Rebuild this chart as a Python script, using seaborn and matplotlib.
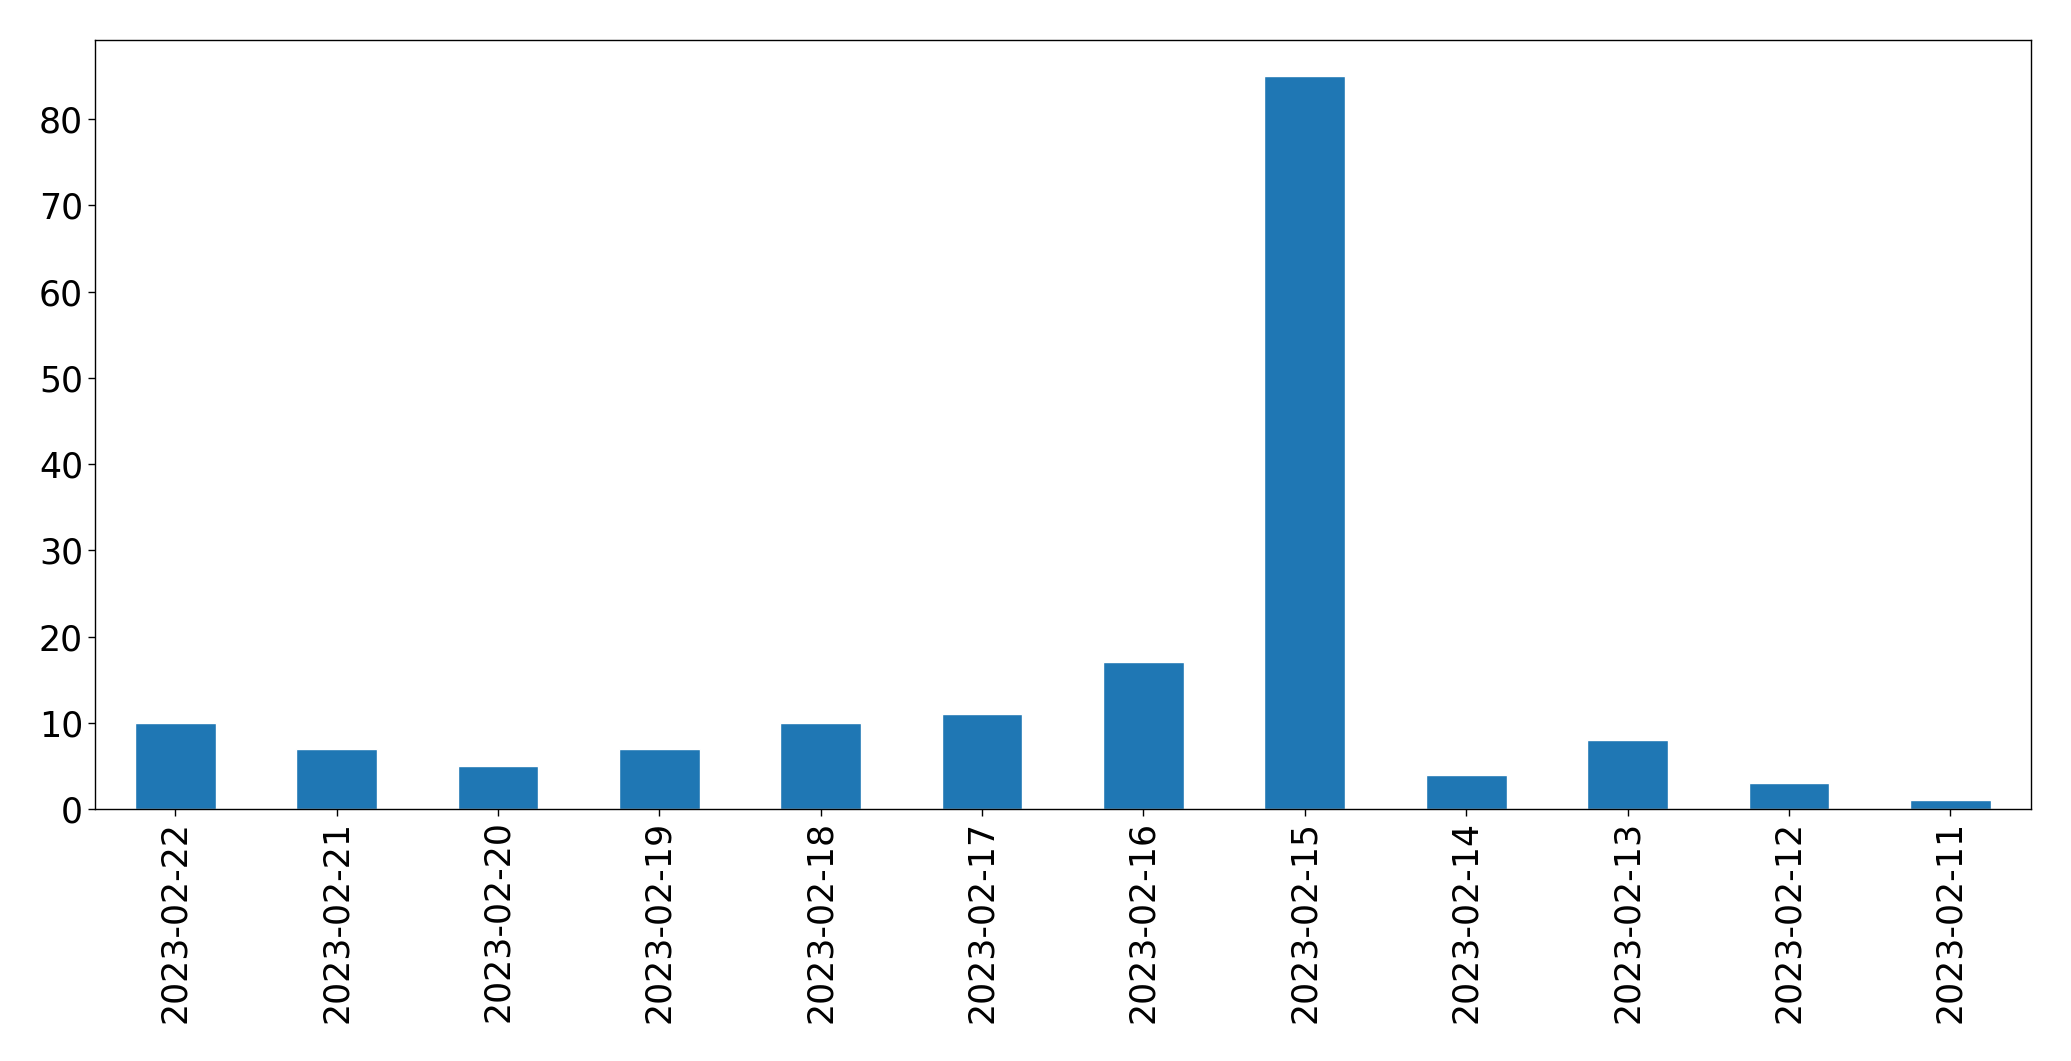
import matplotlib
matplotlib.use("Agg")
import matplotlib.pyplot as plt
import seaborn as sns
import pandas as pd

dates = ["2023-02-22", "2023-02-21", "2023-02-20", "2023-02-19", "2023-02-18",
         "2023-02-17", "2023-02-16", "2023-02-15", "2023-02-14", "2023-02-13",
         "2023-02-12", "2023-02-11"]
counts = [10, 7, 5, 7, 10, 11, 17, 85, 4, 8, 3, 1]

df = pd.DataFrame({"date": dates, "count": counts})

sns.set_style("white")
plt.rcParams["font.family"] = ["DejaVu Sans"]
plt.rcParams["text.color"] = "black"
plt.rcParams["xtick.color"] = "black"
plt.rcParams["ytick.color"] = "black"
plt.rcParams["xtick.labelcolor"] = "black"
plt.rcParams["ytick.labelcolor"] = "black"

fig = plt.figure(figsize=(20.71, 10.61), dpi=100)
ax = fig.add_axes([94.5 / 2071, 1 - 809 / 1061, (2031 - 94.5) / 2071, (809 - 39.5) / 1061])

sns.barplot(data=df, x="date", y="count", order=dates, color="#1f77b4",
            saturation=1, width=0.5, ax=ax, errorbar=None)

ax.set_xlim(-0.5, len(dates) - 0.5)
ax.set_ylim(0, max(counts) * 1.05)
ax.set_xlabel("")
ax.set_ylabel("")
ax.tick_params(axis="both", labelsize=25, length=4.8, width=1, color="black",
               labelcolor="black", bottom=True, left=True)
plt.setp(ax.get_xticklabels(), rotation=90)
for s in ax.spines.values():
    s.set_visible(True)
    s.set_color("black")
    s.set_linewidth(1)

fig.savefig("out.png", dpi=100)
